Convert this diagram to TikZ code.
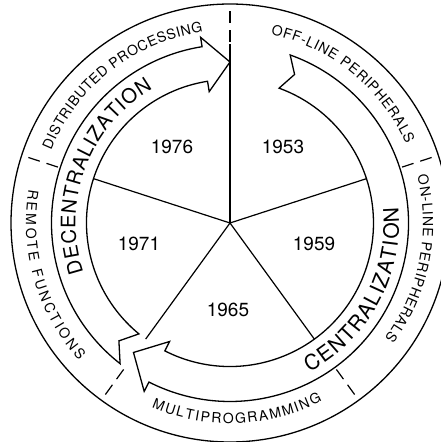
\documentclass[tikz,border=0pt]{standalone}
\usepackage{fontspec}
\setmainfont{TeX Gyre Heros}
\usetikzlibrary{decorations.text}
\newcommand\lblsize{\fontsize{14}{14}\selectfont}
\newcommand\bigsize{\fontsize{20}{20}\selectfont}
\newcommand\bigsizeB{\fontsize{21}{21}\selectfont}
\tikzset{
  rim/.style={draw=black, line width=1.3pt},
  band/.style={draw=black, line width=1.3pt, line join=miter},
  spoke/.style={draw=black, line width=1.2pt},
  tickline/.style={draw=black, line width=1.2pt, dash pattern=on 12pt off 7pt},
  year/.style={font=\fontsize{19}{19}\selectfont, inner sep=0pt},
  arctext/.style={decorate, decoration={text along path, text align={fit to path}, text={#1}}}
}
\begin{document}
\begin{tikzpicture}
\useasboundingbox (-230pt,-219pt) rectangle (211pt,223pt);
\clip (-230pt,-219pt) rectangle (211pt,223pt);
\coordinate (C) at (0,0);
% outer circle
\draw[rim] (C) circle[radius=219pt];
% DECENTRALIZATION arrow (clockwise, bottom-left to top)
\draw[band] (232:178.5pt) arc[start angle=232, end angle=99, radius=178.5pt]
  -- (99:188pt) -- (90:161pt) -- (99:133pt) -- (99:143.5pt)
  arc[start angle=99, end angle=230.6, radius=143.5pt] -- (226.7:162pt) -- cycle;
% CENTRALIZATION arrow (clockwise, top-right to bottom-left)
\draw[band] (70.3:178.5pt) arc[start angle=70.3, end angle=-117, radius=178.5pt]
  -- (-117:189pt) -- (-126.7:161.5pt) -- (-117:133pt) -- (-117:143.5pt)
  arc[start angle=-117, end angle=70, radius=143.5pt] -- (66.5:162pt) -- cycle;
% spokes
\foreach \a/\r/\n in {90/178.5/1, 18/143.5/2, -54/143.5/3, -126/143.5/4, 162/143.5/5}{
  \coordinate (s\n) at (\a:\r pt);
  \draw[spoke] (C) -- (s\n);
}
% dashed separators in the outer ring
\foreach \a/\n in {90/1, 18/2, -54/3, -126/4, 162/5}{
  \coordinate (ta\n) at (\a:181pt);
  \coordinate (tb\n) at (\a:215pt);
  \draw[tickline] (ta\n) -- (tb\n);
}
% years
\node[year] (y1976) at (-58pt,76pt) {1976};
\node[year] (y1953) at (53pt,76pt) {1953};
\node[year] (y1971) at (-91pt,-21pt) {1971};
\node[year] (y1959) at (84pt,-21pt) {1959};
\node[year] (y1965) at (-2pt,-87pt) {1965};
% big words
\path[arctext={|\bigsize|DECENTRALIZATION}] (198.6:154.5pt) arc[start angle=198.6, end angle=120, radius=154.5pt];
\path[arctext={|\bigsizeB|CENTRALIZATION}] (-62:169pt) arc[start angle=-62, end angle=5.4, radius=169pt];
% outer ring labels
\path[arctext={|\lblsize|DISTRIBUTED PROCESSING}] (157.9:193pt) arc[start angle=157.9, end angle=98.1, radius=193pt];
\path[arctext={|\lblsize|OFF-LINE PERIPHERALS}] (77.8:193pt) arc[start angle=77.8, end angle=24.1, radius=193pt];
\path[arctext={|\lblsize|ON-LINE PERIPHERALS}] (14.1:193pt) arc[start angle=14.1, end angle=-36.7, radius=193pt];
\path[arctext={|\lblsize|MULTIPROGRAMMING}] (-113:200.5pt) arc[start angle=-113, end angle=-62.65, radius=200.5pt];
\path[arctext={|\lblsize|REMOTE FUNCTIONS}] (170.5:204pt) arc[start angle=170.5, end angle=222.2, radius=204pt];
\end{tikzpicture}
\end{document}
